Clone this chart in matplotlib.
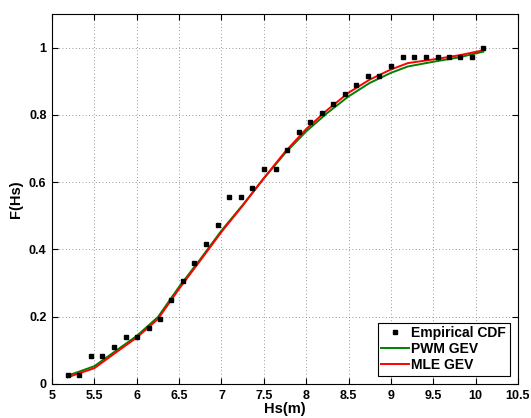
import matplotlib
matplotlib.use("Agg")
import matplotlib.pyplot as plt
import numpy as np

plt.rcParams['font.family'] = ['Liberation Sans', 'DejaVu Sans']

# Empirical CDF points
emp_x = [5.185, 5.32, 5.46, 5.59, 5.73, 5.87, 6.00, 6.14, 6.28, 6.41, 6.55, 6.68,
         6.82, 6.96, 7.09, 7.23, 7.36, 7.50, 7.64, 7.77, 7.92, 8.05, 8.19, 8.32,
         8.46, 8.59, 8.73, 8.86, 9.00, 9.14, 9.27, 9.41, 9.55, 9.68, 9.82, 9.955, 10.09]
emp_n = [1, 1, 3, 3, 4, 5, 5, 6, 7, 9, 11, 13, 15, 17, 20, 20, 21, 23, 23, 25,
         27, 28, 29, 30, 31, 32, 33, 33, 34, 35, 35, 35, 35, 35, 35, 35, 36]
emp_y = [n / 36 for n in emp_n]

# Fitted curves
fit_x = [5.185, 5.3, 5.5, 5.75, 6.0, 6.25, 6.5, 6.75, 7.0, 7.25, 7.5, 7.75, 8.0,
         8.25, 8.5, 8.75, 9.0, 9.2, 9.5, 9.8, 10.09]
mle_y = [0.020, 0.030, 0.047, 0.093, 0.138, 0.193, 0.283, 0.367, 0.452, 0.530,
         0.612, 0.690, 0.758, 0.815, 0.866, 0.905, 0.935, 0.954, 0.965, 0.977, 0.992]
pwm_y = [0.025, 0.035, 0.053, 0.098, 0.143, 0.199, 0.289, 0.371, 0.456, 0.532,
         0.611, 0.686, 0.751, 0.806, 0.855, 0.895, 0.925, 0.944, 0.958, 0.971, 0.988]

xticks = [5, 5.5, 6, 6.5, 7, 7.5, 8, 8.5, 9, 9.5, 10, 10.5]
xticklabels = ['5', '5.5', '6', '6.5', '7', '7.5', '8', '8.5', '9', '9.5', '10', '10.5']
yticks = [0, 0.2, 0.4, 0.6, 0.8, 1.0]
yticklabels = ['0', '0.2', '0.4', '0.6', '0.8', '1']

fig = plt.figure(figsize=(5.31, 4.18), dpi=100)
ax = fig.add_axes([52/531, 1-384/418, (518-52)/531, (384-14)/418])

ax.plot(emp_x, emp_y, 's', color='black', markersize=2.6, label='Empirical CDF', zorder=3)
ax.plot(fit_x, pwm_y, '-', color='#008000', linewidth=1.4, label='PWM GEV', zorder=2)
ax.plot(fit_x, mle_y, '-', color='#ff0000', linewidth=1.4, label='MLE GEV', zorder=2)

ax.set_xlim(5, 10.5)
ax.set_ylim(0, 1.1)
ax.set_xticks(xticks)
ax.set_xticklabels(xticklabels)
ax.set_yticks(yticks)
ax.set_yticklabels(yticklabels)
for lab in ax.get_xticklabels() + ax.get_yticklabels():
    lab.set_fontweight('bold')
    lab.set_fontsize(9)
ax.tick_params(direction='in', top=True, right=True, length=4, width=0.8, pad=4)
ax.grid(True, linestyle=(0, (1, 3)), color='#777777', linewidth=0.6)
for s in ax.spines.values():
    s.set_linewidth(0.8)

ax.set_xlabel('Hs(m)', fontsize=10.5, fontweight='bold', labelpad=0)
ax.set_ylabel('F(Hs)', fontsize=10.5, fontweight='bold', labelpad=4)

leg = ax.legend(loc='lower right', prop={'weight': 'bold', 'size': 10},
                fancybox=False, edgecolor='black', framealpha=1,
                borderpad=0.25, handlelength=2.0, handletextpad=0.15,
                labelspacing=0.15, borderaxespad=0.6, numpoints=1)
leg.get_frame().set_linewidth(0.8)

fig.savefig('out.png', dpi=100, facecolor='white')
